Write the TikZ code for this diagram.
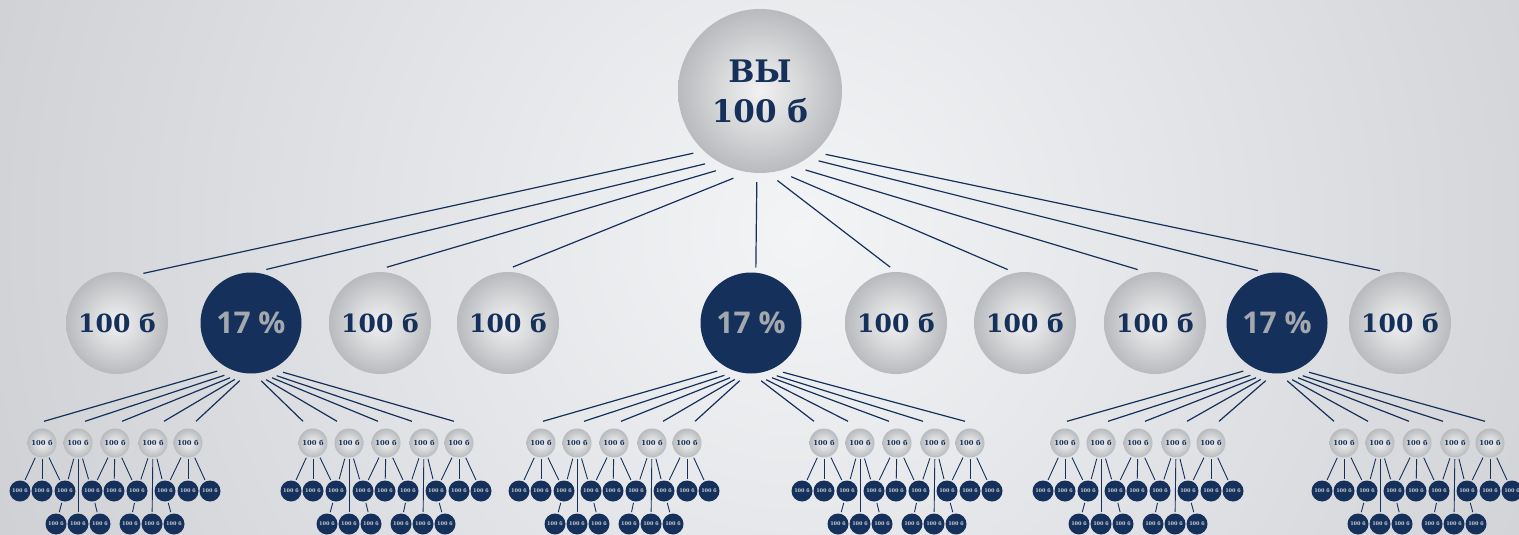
\documentclass[tikz,border=0pt]{standalone}
\usepackage{fontspec}
\setmainfont{DejaVu Serif}
\newfontfamily\pctfont{Open Sans}
\usetikzlibrary{calc}

\definecolor{navy}{HTML}{15305A}
\definecolor{pctgrey}{HTML}{A3A7AE}
\definecolor{dotgrey}{HTML}{C9CDD4}
\definecolor{sphin}{HTML}{F1F1F2}
\definecolor{sphmid}{HTML}{D8D9DB}
\definecolor{sphout}{HTML}{B9BABD}
\definecolor{bgin}{HTML}{F3F4F6}
\definecolor{bgout}{HTML}{CDCFD3}
\pgfdeclareradialshading{sphere}{\pgfpoint{0bp}{0bp}}{color(0bp)=(sphin); color(12bp)=(sphmid); color(25bp)=(sphout); color(50bp)=(sphout)}

\begin{document}
\begin{tikzpicture}[x=1pt, y=1pt,
	link/.style={draw=navy, line width=1.2pt},
	twig/.style={draw=navy, line width=0.9pt, shorten <=1.5pt, shorten >=1.5pt},
	ball/.style={circle, shading=sphere, inner sep=0pt, text=navy},
	bigball/.style={ball, minimum size=164pt, align=center, font=\bfseries\fontsize{31}{37}\selectfont},
	midball/.style={ball, minimum size=102pt, font=\bfseries\fontsize{25}{30}\selectfont},
	pctball/.style={circle, fill=navy, minimum size=101pt, inner sep=0pt, text=pctgrey, font=\pctfont\bfseries\fontsize{30}{36}\selectfont},
	smallball/.style={ball, minimum size=29pt, font=\bfseries\fontsize{6.8}{8}\selectfont},
	dot/.style={circle, fill=navy, minimum size=21pt, inner sep=0pt, text=dotgrey, font=\bfseries\fontsize{5}{6}\selectfont},
]
\useasboundingbox (0,0) rectangle (1519,-535);
\begin{scope}
	\clip (0,0) rectangle (1519,-535);
	\shade [inner color=bgin, outer color=bgout] (800,-230) circle (900);
\end{scope}

% top and second row
\node [bigball] (you) at (760,-91) {ВЫ\\[3pt]100 б};
\node [midball] (n1) at (117,-323) {100 б};
\node [pctball] (n2) at (251,-323) {17 \%};
\node [midball] (n3) at (380,-323) {100 б};
\node [midball] (n4) at (508,-323) {100 б};
\node [pctball] (n5) at (751,-323) {17 \%};
\node [midball] (n6) at (896,-323) {100 б};
\node [midball] (n7) at (1025,-323) {100 б};
\node [midball] (n8) at (1155,-323) {100 б};
\node [pctball] (n9) at (1277,-323) {17 \%};
\node [midball] (n10) at (1400,-323) {100 б};

\foreach \a/\c/\b in {223/n1/62, 233/n2/74, 241/n3/83, 253/n4/85, 268/n5/85,
		281/n6/96, 290/n7/108, 300/n8/108, 310/n9/110, 316/n10/111}
	\draw [link] ([shift={(\a:9)}]you.\a) -- ([shift={(\b:5)}]\c.\b);

% groups under the 17 % nodes
\foreach \g/\x in {1/42, 2/313, 3/541, 4/824, 5/1065, 6/1344} {
	\foreach \i/\dx in {1/0, 2/36, 3/73, 4/111, 5/146}
		\node [smallball] (grp\g-g\i) at (\x+\dx,-443) {100 б};
	\foreach \j/\dx in {1/-22, 2/0, 3/23, 4/50, 5/72, 6/95, 7/123, 8/146, 9/168}
		\node [dot] (grp\g-a\j) at (\x+\dx,-491) {100 б};
	\foreach \k/\dx in {1/14, 2/36, 3/58, 4/88, 5/110, 6/132}
		\node [dot] (grp\g-b\k) at (\x+\dx,-524) {100 б};
	\foreach \u/\v in {g1/a1, g1/a2, g1/a3, g2/a3, g2/b2, g2/a4, g3/a4, g3/a5, g3/a6,
			g4/a6, g4/b5, g4/a7, g5/a7, g5/a8, g5/a9, a3/b1, a4/b3, a6/b4, a7/b6}
		\draw [twig] (grp\g-\u) -- (grp\g-\v);
}

\foreach \g/\p in {1/n2, 3/n5, 5/n9}
	\foreach \i/\a/\e in {1/235/2, 2/243/7, 3/249/7, 4/254/11, 5/259/8}
		\draw [link] ([shift={(\a:8)}]\p.\a) -- ([shift={(\e,7)}]grp\g-g\i.north);
\foreach \g/\p in {2/n2, 4/n5, 6/n9}
	\foreach \i/\a/\e in {1/280/-10, 2/285/-12, 3/291/-8, 4/296/-12, 5/303/-5}
		\draw [link] ([shift={(\a:8)}]\p.\a) -- ([shift={(\e,7)}]grp\g-g\i.north);
\end{tikzpicture}
\end{document}
